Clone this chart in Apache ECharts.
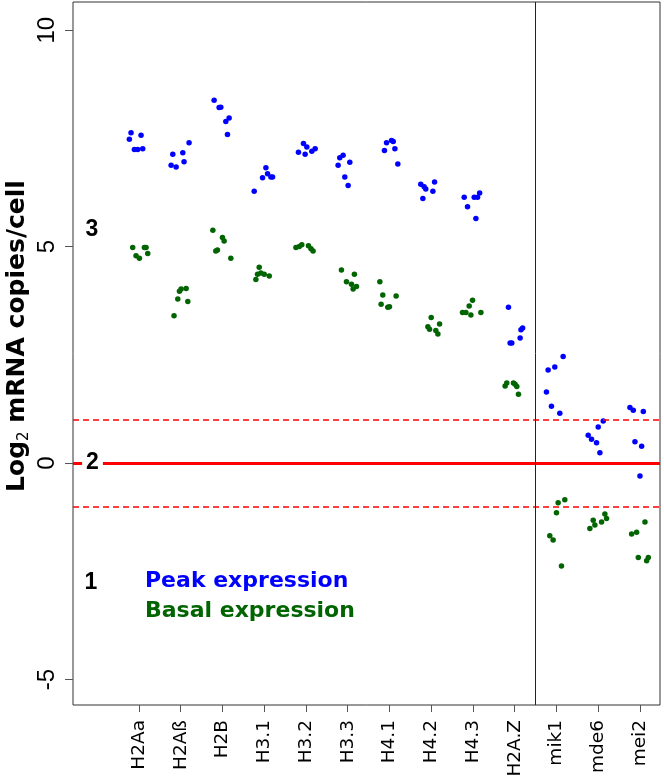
<!DOCTYPE html>
<html>
<head>
<meta charset="utf-8">
<script src="https://cdn.jsdelivr.net/npm/echarts@6/dist/echarts.min.js"></script>
<style>html,body{margin:0;padding:0;background:#fff}#c{width:664px;height:781px}</style>
</head>
<body>
<div id="c"></div>
<script>
const categories = ['H2Aa','H2Aß','H2B','H3.1','H3.2','H3.3','H4.1','H4.2','H4.3','H2A.Z','mik1','mde6','mei2'];
const yTicks = [-5, 0, 5, 10];
const xTicks = [0,1,2,3,4,5,6,7,8,9,10,11,12];

const peakValues = [
  [7.63,7.57,7.48,7.24,7.24,7.26],
  [7.40,7.13,7.17,6.96,6.88,6.84],
  [8.38,8.21,8.22,7.97,7.89,7.59],
  [6.82,6.68,6.59,6.61,6.61,6.28],
  [7.38,7.30,7.26,7.20,7.18,7.13],
  [7.11,7.05,6.95,6.88,6.61,6.41],
  [7.40,7.45,7.43,7.22,7.26,6.91],
  [6.44,6.38,6.33,6.49,6.28,6.11],
  [6.14,6.14,6.14,6.24,5.92,5.65],
  [3.60,3.12,3.08,2.89,2.77,2.77],
  [2.46,2.22,2.15,1.64,1.31,1.15],
  [0.97,0.83,0.64,0.55,0.47,0.24],
  [1.28,1.22,1.19,0.49,0.39,-0.30]
];
const peakJitter = [
  [-0.19,0.05,-0.23,-0.11,-0.03,0.09],
  [0.20,-0.19,0.05,0.08,-0.23,-0.11],
  [-0.20,-0.08,-0.04,0.16,0.08,0.12],
  [0.04,0.08,-0.04,0.16,0.20,-0.24],
  [-0.06,0.02,0.22,0.14,-0.18,-0.02],
  [-0.11,-0.19,0.05,-0.23,-0.07,0.01],
  [-0.07,0.05,0.09,-0.12,0.13,0.20],
  [-0.25,-0.17,-0.13,0.08,0.04,-0.20],
  [-0.21,0.03,0.11,0.16,-0.13,0.07],
  [-0.15,0.19,0.15,0.13,-0.11,-0.07],
  [0.16,-0.04,-0.20,-0.24,-0.12,0.08],
  [0.12,0.00,-0.24,-0.16,-0.04,0.04],
  [-0.24,-0.16,0.08,-0.12,0.04,0.00]
];
const basalValues = [
  [4.98,4.98,4.98,4.79,4.73,4.84],
  [4.03,4.02,3.97,3.79,3.73,3.40],
  [5.38,5.21,5.13,4.90,4.92,4.73],
  [4.52,4.24,4.36,4.39,4.36,4.32],
  [4.98,5.00,5.04,5.02,4.95,4.90],
  [4.46,4.36,4.19,4.13,4.08,4.02],
  [4.19,3.88,3.86,3.67,3.60,3.61],
  [3.36,3.21,3.15,3.09,3.06,2.98],
  [3.76,3.63,3.48,3.48,3.48,3.42],
  [1.78,1.85,1.85,1.82,1.77,1.59],
  [-0.92,-0.85,-1.15,-1.68,-1.78,-2.38],
  [-1.32,-1.18,-1.28,-1.36,-1.43,-1.51],
  [-1.36,-1.60,-1.64,-2.18,-2.18,-2.26]
];
const basalJitter = [
  [-0.15,0.13,0.17,-0.07,0.01,0.21],
  [0.13,0.01,-0.03,-0.07,0.17,-0.16],
  [-0.23,0.00,0.04,-0.16,-0.12,0.20],
  [-0.12,-0.20,-0.16,-0.08,0.00,0.12],
  [-0.24,-0.16,-0.10,0.06,0.12,0.17],
  [-0.15,0.16,-0.03,0.09,0.21,0.13],
  [-0.23,-0.16,0.16,-0.20,-0.04,0.00],
  [0.00,0.20,-0.08,-0.04,0.11,0.16],
  [-0.01,-0.09,-0.25,-0.17,0.19,-0.05],
  [-0.23,-0.19,-0.03,0.01,0.05,0.09],
  [0.04,0.20,0.00,-0.16,-0.08,0.12],
  [-0.12,0.16,0.20,0.08,-0.08,-0.20],
  [0.12,-0.08,-0.20,-0.04,0.20,0.16]
];
const refLines = [0, 1, -1];
const groupDivider = 9.5;

function build(vals, jit) {
  const out = [];
  vals.forEach((arr, i) => arr.forEach((v, k) => out.push([i + jit[i][k], v])));
  return out;
}

const chart = echarts.init(document.getElementById('c'), null, {renderer: 'canvas'});
const option = {
  animation: false,
  backgroundColor: '#fff',
  grid: {left: 73, right: 4, top: 2, bottom: 76, show: true, borderColor: '#333', borderWidth: 1, backgroundColor: 'transparent', outerBoundsMode: 'none', containLabel: false},
  xAxis: {
    type: 'value', min: -1.58, max: 12.48,
    splitLine: {show: false},
    axisLine: {show: false, onZero: false},
    axisTick: {show: true, length: 7, lineStyle: {color: '#555'}, customValues: xTicks},
    axisLabel: {
      customValues: xTicks, rotate: 90, margin: 15,
      fontFamily: 'DejaVu Sans', fontSize: 18.5, color: '#000',
      formatter: v => categories[Math.round(v)] || ''
    }
  },
  yAxis: {
    type: 'value', min: -5.59, max: 10.65,
    splitLine: {show: false},
    axisLine: {show: false, onZero: false},
    axisTick: {show: true, length: 8, lineStyle: {color: '#555'}, customValues: yTicks},
    axisLabel: {
      customValues: yTicks, rotate: 90, margin: 14,
      fontFamily: 'Liberation Sans', fontSize: 24, color: '#000'
    }
  },
  series: [
    {
      type: 'scatter', data: [], z: 1, silent: true,
      markLine: {
        silent: true, symbol: 'none', label: {show: false}, animation: false,
        data: [
          {yAxis: refLines[0], lineStyle: {color: '#ff0000', width: 3, type: 'solid', opacity: 1}},
          {yAxis: refLines[1], lineStyle: {color: '#ff0000', width: 1.6, type: [6, 4], opacity: 1}},
          {yAxis: refLines[2], lineStyle: {color: '#ff0000', width: 1.6, type: [6, 4], opacity: 1}},
          {xAxis: groupDivider, lineStyle: {color: '#222', width: 1, type: 'solid', opacity: 1}}
        ]
      }
    },
    {
      name: 'Peak expression', type: 'scatter', z: 3,
      symbol: 'circle', symbolSize: 5.5,
      itemStyle: {color: '#0000ff', opacity: 1},
      data: build(peakValues, peakJitter)
    },
    {
      name: 'Basal expression', type: 'scatter', z: 3,
      symbol: 'circle', symbolSize: 5.5,
      itemStyle: {color: '#006400', opacity: 1},
      data: build(basalValues, basalJitter)
    }
  ],
  graphic: [
    {
      type: 'text', x: 17, y: 336, rotation: Math.PI / 2, z: 100,
      style: {
        text: '{a|Log}{s|2}{a| mRNA copies/cell}',
        align: 'center', verticalAlign: 'middle', textAlign: 'center', textVerticalAlign: 'middle',
        rich: {
          a: {fontFamily: 'DejaVu Sans', fontWeight: 'bold', fontSize: 25, lineHeight: 30, fill: '#000', color: '#000'},
          s: {fontFamily: 'DejaVu Sans', fontSize: 15, lineHeight: 15, verticalAlign: 'bottom', fill: '#000', color: '#000'}
        }
      }
    },
    {type: 'text', x: 92, y: 230, z: 100, style: {text: '3', font: 'bold 23px "Liberation Sans"', fill: '#000', align: 'center', verticalAlign: 'middle', textAlign: 'center', textVerticalAlign: 'middle'}},
    {type: 'text', x: 92.5, y: 463, z: 100, style: {text: '2', font: 'bold 23px "Liberation Sans"', fill: '#000', align: 'center', verticalAlign: 'middle', textAlign: 'center', textVerticalAlign: 'middle', backgroundColor: '#fff', padding: [0, 4]}},
    {type: 'text', x: 91, y: 583, z: 100, style: {text: '1', font: 'bold 23px "Liberation Sans"', fill: '#000', align: 'center', verticalAlign: 'middle', textAlign: 'center', textVerticalAlign: 'middle'}},
    {type: 'text', x: 145, y: 581, z: 100, style: {text: 'Peak expression', font: 'bold 22px "DejaVu Sans"', fill: '#0000ff', align: 'left', verticalAlign: 'middle', textAlign: 'left', textVerticalAlign: 'middle'}},
    {type: 'text', x: 145, y: 611, z: 100, style: {text: 'Basal expression', font: 'bold 22px "DejaVu Sans"', fill: '#006400', align: 'left', verticalAlign: 'middle', textAlign: 'left', textVerticalAlign: 'middle'}}
  ]
};
chart.setOption(option);
</script>
</body>
</html>
